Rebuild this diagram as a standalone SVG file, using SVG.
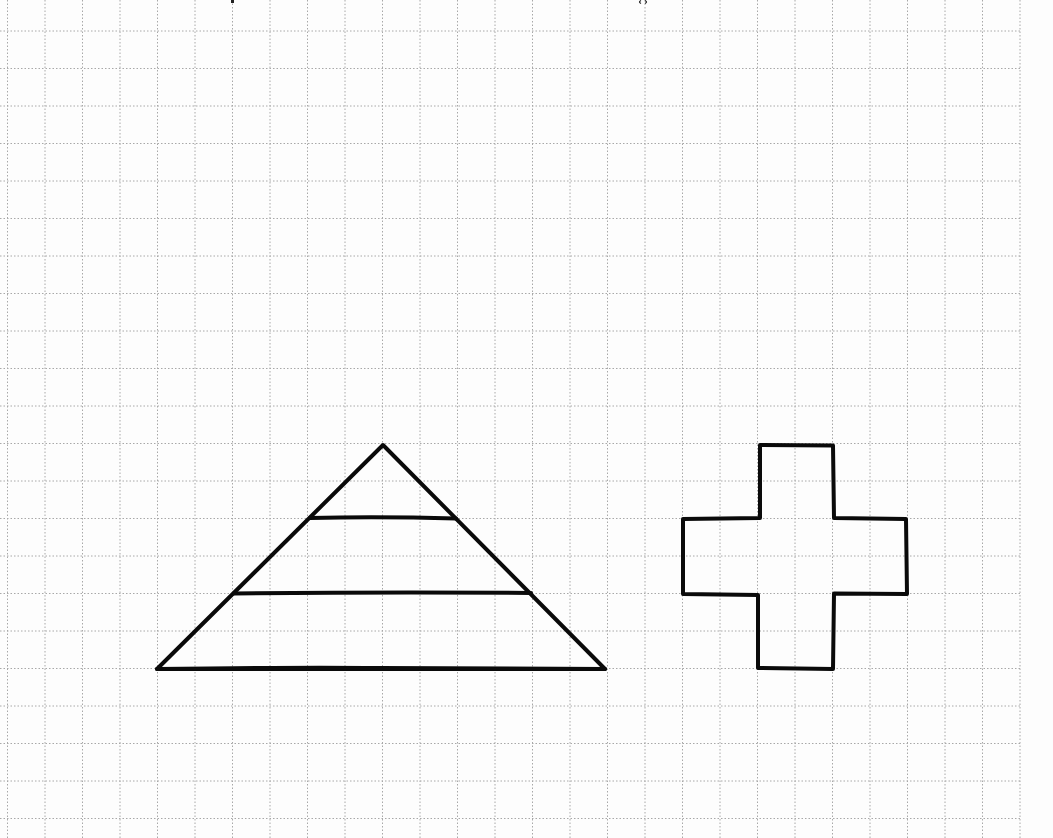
<svg xmlns="http://www.w3.org/2000/svg" width="1053" height="838" viewBox="0 0 1053 838">
<style>
.grid{fill:none;stroke:#a8a8a8;stroke-width:1;stroke-dasharray:1.5 2}
.ink{fill:none;stroke:#0a0a0a;stroke-width:4;stroke-linejoin:round;stroke-linecap:round}
</style>
<rect width="1053" height="838" fill="#fdfdfd"/>
<g id="grid">
<path class="grid" d="M7.5 0V838M45 0V838M82.5 0V838M120 0V838M157.5 0V838M195 0V838M232.5 0V838M270 0V838M307.5 0V838M345 0V838M382.5 0V838M420 0V838M457.5 0V838M495 0V838M532.5 0V838M570 0V838M607.5 0V838M645 0V838M682.5 0V838M720 0V838M757.5 0V838M795 0V838M832.5 0V838M870 0V838M907.5 0V838M945 0V838M982.5 0V838M1020 0V838"/>
<path class="grid" d="M0 31H1021M0 68.5H1021M0 106H1021M0 143.5H1021M0 181H1021M0 218.5H1021M0 256H1021M0 293.5H1021M0 331H1021M0 368.5H1021M0 406H1021M0 443.5H1021M0 481H1021M0 518.5H1021M0 556H1021M0 593.5H1021M0 631H1021M0 668.5H1021M0 706H1021M0 743.5H1021M0 781H1021M0 818.5H1021"/>
</g>
<g id="marks">
<rect x="231" y="0" width="3" height="3" fill="#222"/>
<path d="M641 0.5Q638 2 641 3.5M645 0.5Q648 2 645 3.5" fill="none" stroke="#222" stroke-width="1.2"/>
</g>
<g id="triangle">
<path class="ink" d="M157 669L383 445L605 669Z"/>
<path class="ink" d="M157 669Q300 667 380 668Q500 668.5 605 669"/>
<path class="ink" d="M310 518Q380 516.5 456 518.5"/>
<path class="ink" d="M234 593.5Q380 592 531 593"/>
</g>
<g id="cross">
<path class="ink" d="M760 445L833 445.5L834 518L906 519L907 594L834 593.5L833 669L758 668L758 595L683 594L683 519L760 518Z"/>
</g>
</svg>
